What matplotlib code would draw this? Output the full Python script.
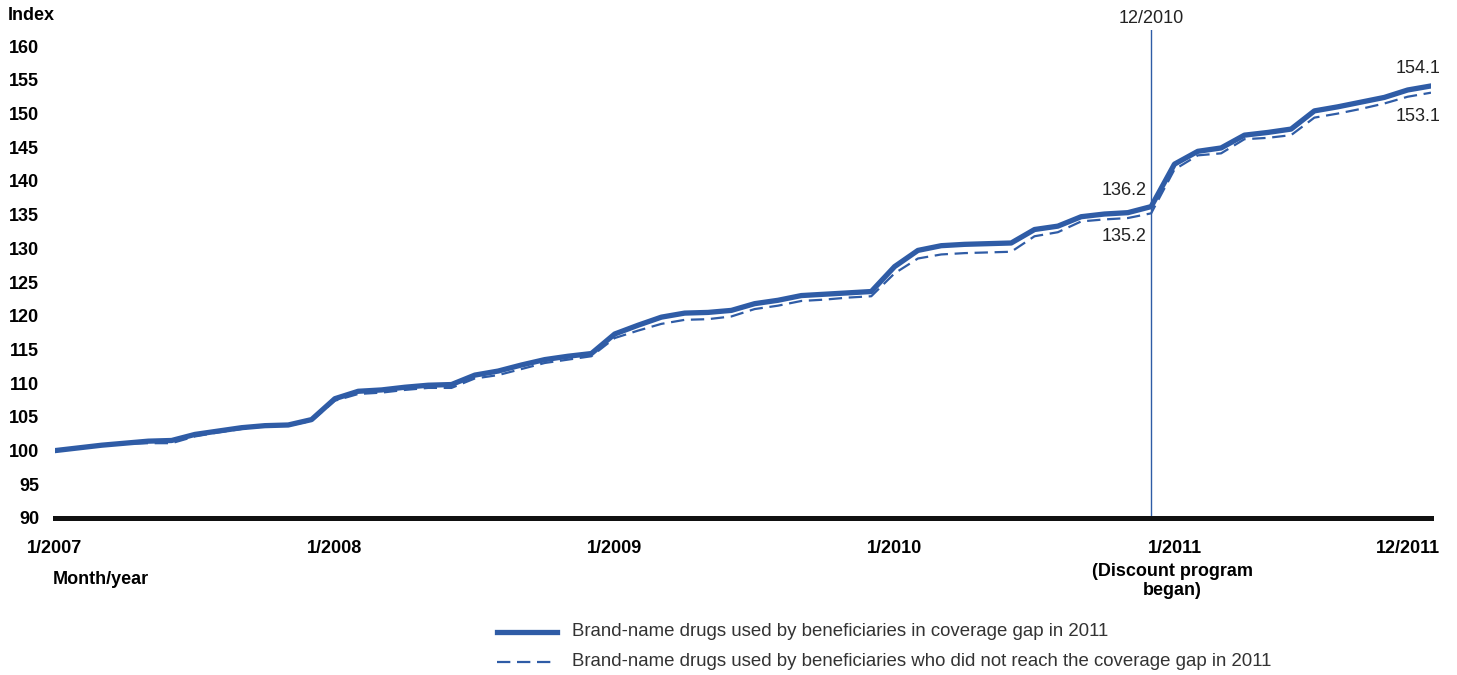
import matplotlib
matplotlib.use("Agg")
import matplotlib.pyplot as plt
from matplotlib.lines import Line2D
from matplotlib.transforms import offset_copy

plt.rcParams['font.family'] = ['Liberation Sans', 'DejaVu Sans']

# monthly index, 1/2007 .. 12/2011
months = list(range(60))
in_gap = [100.0, 100.4, 100.8, 101.1, 101.4, 101.5, 102.4, 102.9, 103.4, 103.7, 103.8, 104.6,
          107.7, 108.8, 109.0, 109.4, 109.7, 109.8, 111.2, 111.8, 112.7, 113.5, 114.0, 114.4,
          117.3, 118.6, 119.8, 120.4, 120.5, 120.8, 121.8, 122.3, 123.0, 123.2, 123.4, 123.6,
          127.3, 129.7, 130.4, 130.6, 130.7, 130.8, 132.8, 133.3, 134.7, 135.1, 135.3, 136.2,
          142.5, 144.4, 144.9, 146.8, 147.2, 147.7, 150.4, 151.0, 151.7, 152.4, 153.5, 154.1]
not_gap = [100.0, 100.4, 100.75, 101.0, 101.1, 101.1, 102.1, 102.7, 103.2, 103.6, 103.7, 104.4,
           107.4, 108.4, 108.6, 109.0, 109.3, 109.3, 110.7, 111.2, 112.1, 113.0, 113.5, 114.0,
           116.7, 117.8, 118.8, 119.4, 119.5, 119.9, 121.0, 121.5, 122.2, 122.4, 122.7, 122.9,
           126.3, 128.5, 129.1, 129.3, 129.4, 129.5, 131.8, 132.4, 134.0, 134.3, 134.5, 135.2,
           141.7, 143.8, 144.1, 146.2, 146.4, 146.8, 149.4, 150.0, 150.7, 151.5, 152.5, 153.1]

tick_pos = [0, 12, 24, 36, 48]
tick_labels = ['1/2007', '1/2008', '1/2009', '1/2010', '1/2011']
last_label = '12/2011'
y_ticks = list(range(90, 161, 5))

blue = '#2f5ca6'
W, H = 1457, 675
fig = plt.figure(figsize=(W / 100, H / 100), dpi=100)
ax = fig.add_axes([55 / W, 1 - 518 / H, (1431 - 55) / W, (518 - 30) / H])

ax.plot(months, not_gap, color=blue, lw=1.6, dashes=(6, 3))
ax.plot(months, in_gap, color=blue, lw=3.8, solid_capstyle='round')
ax.axvline(47, color=blue, lw=1.0)

ax.set_xlim(0, 59)
ax.set_ylim(90, 162.4)
ax.set_yticks(y_ticks)
ax.set_yticklabels([str(v) for v in y_ticks], fontsize=13, fontweight='bold')
ax.set_xticks(tick_pos)
ax.set_xticklabels(tick_labels, fontsize=13, fontweight='bold')
ax.tick_params(length=0)
ax.tick_params(axis='y', pad=11.5)
ax.tick_params(axis='x', pad=16)
for s in ['top', 'right', 'left']:
    ax.spines[s].set_visible(False)
ax.spines['bottom'].set_linewidth(3.6)
ax.spines['bottom'].set_color('#111111')

# last month label sits flush right, a little past the axis end
ax.text(59, 0, last_label, fontsize=13, fontweight='bold', ha='right', va='top',
        transform=offset_copy(ax.get_xaxis_transform(), fig=fig, x=9, y=-22, units='dots'))

# annotations
note = dict(fontsize=13, color='#222222')
ax.text(46.8, in_gap[47] + 1.2, '136.2', ha='right', va='bottom', **note)
ax.text(46.8, not_gap[47] - 2.2, '135.2', ha='right', va='top', **note)
ax.text(59.4, in_gap[59] + 1.3, '154.1', ha='right', va='bottom', **note)
ax.text(59.4, not_gap[59] - 2.2, '153.1', ha='right', va='top', **note)
ax.text(47, 162.9, '12/2010', ha='center', va='bottom', **note)

fig.text(8 / W, 1 - 16 / H, 'Index', fontsize=13, fontweight='bold', va='center')
fig.text(53 / W, 1 - 580 / H, 'Month/year', fontsize=13, fontweight='bold', va='center')
fig.text(1172 / W, 1 - 581 / H, '(Discount program\nbegan)', fontsize=13, fontweight='bold',
         ha='center', va='center', linespacing=1.15)

# legend
fig.add_artist(Line2D([497 / W, 557 / W], [1 - 632 / H] * 2, color=blue, lw=3.8))
fig.add_artist(Line2D([497 / W, 557 / W], [1 - 662 / H] * 2, color=blue, lw=1.6, dashes=(6, 3)))
fig.text(572 / W, 1 - 632 / H, 'Brand-name drugs used by beneficiaries in coverage gap in 2011',
         fontsize=13.4, va='center', color='#333333')
fig.text(572 / W, 1 - 662 / H,
         'Brand-name drugs used by beneficiaries who did not reach the coverage gap in 2011',
         fontsize=13.4, va='center', color='#333333')

fig.savefig('out.png', dpi=100)
